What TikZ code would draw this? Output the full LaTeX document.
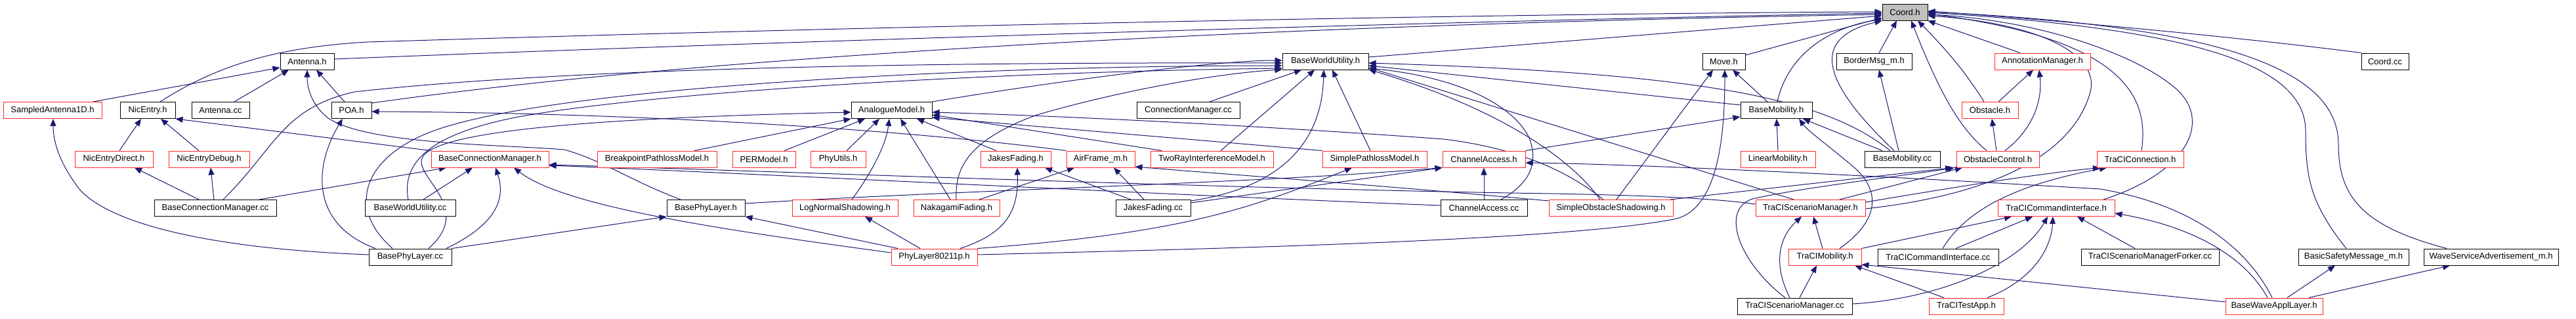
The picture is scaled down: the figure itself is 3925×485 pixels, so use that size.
\documentclass[tikz,border=0pt]{standalone}
\usepackage{fontspec}
\setmainfont{Liberation Sans}
\usetikzlibrary{arrows.meta}
\definecolor{edgeblue}{RGB}{25,25,112}
\definecolor{nodered}{RGB}{255,40,40}
\definecolor{coordgray}{RGB}{191,191,191}
\pgfdeclarelayer{bg}
\pgfdeclarelayer{edges}
\pgfsetlayers{bg,edges,main}
\newcommand{\mk}[6]{\node[#6, minimum width={#3pt-#2pt}] (#1) at ({(#2+#3)/2},#4) {#5};}
\tikzset{
  boxbase/.style={draw, rectangle, fill=white, inner sep=0pt, minimum height=25pt, line width=1pt, font=\fontsize{13}{15}\selectfont, text=black},
  kbox/.style={boxbase, draw=black},
  rbox/.style={boxbase, draw=nodered},
  gbox/.style={boxbase, draw=black, fill=coordgray},
  e/.style={draw=edgeblue, line width=1pt, -{Triangle[length=11pt,width=9pt]}}
}
\begin{document}
\begin{tikzpicture}[x=1pt,y=-1pt]
\begin{pgfonlayer}{bg}
\fill[white] (0,0) rectangle (3925,485);
\end{pgfonlayer}
\useasboundingbox (0,0) rectangle (3925,485);
% row 0
\mk{coord}{2868}{2937}{18.5}{Coord.h}{gbox}
% row 1
\mk{antenna}{427}{509}{93.5}{Antenna.h}{kbox}
\mk{bwuh}{1954}{2085}{93.5}{BaseWorldUtility.h}{kbox}
\mk{move}{2594}{2659}{93.5}{Move.h}{kbox}
\mk{border}{2798}{2913}{93.5}{BorderMsg\_m.h}{kbox}
\mk{annot}{3039}{3185}{93.5}{AnnotationManager.h}{rbox}
\mk{coordcc}{3598}{3670}{93.5}{Coord.cc}{kbox}
% row 2
\mk{sampled}{5}{155}{168}{SampledAntenna1D.h}{rbox}
\mk{nicentry}{183}{267}{168}{NicEntry.h}{kbox}
\mk{antennacc}{292}{380}{168}{Antenna.cc}{kbox}
\mk{poa}{505}{566}{168}{POA.h}{kbox}
\mk{analogue}{1297}{1420}{168}{AnalogueModel.h}{kbox}
\mk{connmgrcc}{1732}{1889}{168}{ConnectionManager.cc}{kbox}
\mk{basemobh}{2652}{2761}{168}{BaseMobility.h}{kbox}
\mk{obstacle}{2989}{3075}{168}{Obstacle.h}{rbox}
% row 3
\mk{nicdirect}{114}{233}{242.5}{NicEntryDirect.h}{rbox}
\mk{nicdebug}{257}{380}{242.5}{NicEntryDebug.h}{rbox}
\mk{bcmh}{657}{836}{242.5}{BaseConnectionManager.h}{rbox}
\mk{breakpoint}{910}{1092}{242.5}{BreakpointPathlossModel.h}{rbox}
\mk{permodel}{1116}{1212}{242.5}{PERModel.h}{rbox}
\mk{phyutils}{1235}{1319}{242.5}{PhyUtils.h}{rbox}
\mk{jakesh}{1494}{1601}{242.5}{JakesFading.h}{rbox}
\mk{airframe}{1625}{1729}{242.5}{AirFrame\_m.h}{rbox}
\mk{tworay}{1753}{1940}{242.5}{TwoRayInterferenceModel.h}{rbox}
\mk{simplepl}{2015}{2174}{242.5}{SimplePathlossModel.h}{rbox}
\mk{chanh}{2198}{2324}{242.5}{ChannelAccess.h}{rbox}
\mk{linmob}{2652}{2766}{242.5}{LinearMobility.h}{rbox}
\mk{basemobcc}{2841}{2956}{242.5}{BaseMobility.cc}{kbox}
\mk{obsctl}{2981}{3107}{242.5}{ObstacleControl.h}{rbox}
\mk{tcon}{3195}{3327}{242.5}{TraCIConnection.h}{rbox}
% row 4
\mk{bcmcc}{235}{421}{317}{BaseConnectionManager.cc}{kbox}
\mk{bwucc}{556}{694}{317}{BaseWorldUtility.cc}{kbox}
\mk{bplh}{1016}{1135}{317}{BasePhyLayer.h}{kbox}
\mk{lognorm}{1207}{1368}{317}{LogNormalShadowing.h}{rbox}
\mk{nakagami}{1392}{1523}{317}{NakagamiFading.h}{rbox}
\mk{jakescc}{1700}{1814}{317}{JakesFading.cc}{kbox}
\mk{chancc}{2195}{2327}{317}{ChannelAccess.cc}{kbox}
\mk{sos}{2360}{2549}{317}{SimpleObstacleShadowing.h}{rbox}
\mk{tsmh}{2675}{2842}{317}{TraCIScenarioManager.h}{rbox}
\mk{tcih}{3044}{3222}{317}{TraCICommandInterface.h}{rbox}
% row 5
\mk{bplcc}{562}{688}{391.5}{BasePhyLayer.cc}{kbox}
\mk{phy}{1358}{1489}{391.5}{PhyLayer80211p.h}{rbox}
\mk{tmob}{2725}{2836}{391.5}{TraCIMobility.h}{rbox}
\mk{tcicc}{2861}{3045}{391.5}{TraCICommandInterface.cc}{kbox}
\mk{forker}{3171}{3381}{391.5}{TraCIScenarioManagerForker.cc}{kbox}
\mk{bsm}{3502}{3670}{391.5}{BasicSafetyMessage\_m.h}{kbox}
\mk{wsa}{3693}{3898}{391.5}{WaveServiceAdvertisement\_m.h}{kbox}
% row 6
\mk{tsmcc}{2647}{2822}{466.5}{TraCIScenarioManager.cc}{kbox}
\mk{testapp}{2939}{3053}{466.5}{TraCITestApp.h}{rbox}
\mk{bwal}{3391}{3539}{466.5}{BaseWaveApplLayer.h}{rbox}

\begin{pgfonlayer}{edges}
% ---- edges into Coord.h
\draw[e] (nicentry.north -| 244,0) .. controls (330,100) and (420,72) .. (560,64) .. controls (1500,35) and (2400,20) .. (coord.west |- 0,18);
\draw[e] (antenna.east |- 0,90) .. controls (1200,62) and (2300,30) .. (coord.west |- 0,20);
\draw[e] (poa.east |- 0,157) .. controls (1000,95) and (1800,40) .. (coord.west |- 0,22);
\draw[e] (bwuh.east |- 0,87) -- (coord.west |- 0,24);
\draw[e] (move.east |- 0,84) -- (coord.west |- 0,27);
\draw[e] (basemobh.north -| 2708,0) .. controls (2725,80) and (2790,42) .. (coord.west |- 0,29);
\draw[e] (basemobcc.north -| 2886,0) .. controls (2760,110) and (2770,55) .. (coord.south west);
\draw[e] (border.north -| 2863,0) -- (coord.south -| 2890,0);
\draw[e] (obsctl.north -| 3027,0) .. controls (2985,195) and (2955,140) .. (coord.south -| 2912,0);
\draw[e] (obstacle.north -| 3023,0) .. controls (2995,110) and (2965,75) .. (coord.south -| 2922,0);
\draw[e] (annot.north -| 3078,0) -- (coord.south east);
\draw[e] (coordcc.north west) .. controls (3400,55) and (3100,28) .. (coord.east |- 0,17);
\draw[e] (bsm.north -| 3575,0) .. controls (3520,310) and (3513,270) .. (3513,200) .. controls (3513,100) and (3350,45) .. (coord.east |- 0,19);
\draw[e] (wsa.north -| 3728,0) .. controls (3600,345) and (3563,300) .. (3563,220) .. controls (3563,110) and (3400,40) .. (coord.east |- 0,18);
\draw[e] (tcon.north -| 3263,0) .. controls (3275,150) and (3240,60) .. (coord.east |- 0,21);
\draw[e] (tcih.north -| 3205,0) .. controls (3340,260) and (3370,180) .. (3313,133) .. controls (3250,80) and (3100,30) .. (coord.east |- 0,22);
\draw[e] (tsmh.east |- 0,318) .. controls (3050,295) and (3160,230) .. (3185,140) .. controls (3200,80) and (3100,35) .. (coord.east |- 0,24);

% ---- Antenna.h
\draw[e] (sampled.north -| 142,0) -- (antenna.west |- 0,103);
\draw[e] (antennacc.north -| 357,0) -- (antenna.south -| 440,0);
\draw[e] (poa.north -| 525,0) -- (antenna.south -| 482,0);
\draw[e] (bplh.north -| 1037,0) .. controls (960,275) and (920,245) .. (860,228) .. controls (760,220) and (560,220) .. (500,180) .. controls (475,160) and (468,135) .. (antenna.south -| 468,0);

% ---- NicEntry.h
\draw[e] (nicdirect.north -| 182,0) -- (nicentry.south -| 215,0);
\draw[e] (nicdebug.north -| 303,0) -- (nicentry.south -| 245,0);
\draw[e] (bcmh.north west) -- (nicentry.south east);

% ---- BaseConnectionManager.cc
\draw[e] (bcmcc.north -| 303,0) -- (nicdirect.south -| 205,0);
\draw[e] (bcmcc.north -| 326,0) -- (nicdebug.south -| 321,0);
\draw[e] (bcmcc.north -| 395,0) -- (bcmh.south -| 680,0);
\draw[e] (bcmcc.north -| 340,0) .. controls (420,225) and (430,165) .. (540,140) .. controls (900,100) and (1500,95) .. (bwuh.west |- 0,96);

% ---- BasePhyLayer.cc
\draw[e] (bplcc.west |- 0,388) .. controls (300,378) and (150,335) .. (115,280) .. controls (90,245) and (81,215) .. (sampled.south -| 81,0);
\draw[e] (bplcc.north -| 572,0) .. controls (470,340) and (480,250) .. (poa.south -| 522,0);
\draw[e] (bplcc.north -| 598,0) .. controls (520,310) and (560,225) .. (690,190) .. controls (900,130) and (1500,100) .. (bwuh.west |- 0,100);
\draw[e] (bplcc.north -| 653,0) .. controls (720,320) and (640,275) .. (642,245) .. controls (645,200) and (900,180) .. (analogue.west |- 0,171);
\draw[e] (bplcc.north -| 680,0) .. controls (760,340) and (770,300) .. (bcmh.south -| 755,0);
\draw[e] (bplcc.north east) -- (bplh.south west);

% ---- BaseWorldUtility.cc
\draw[e] (bwucc.north -| 622,0) .. controls (612,250) and (650,205) .. (790,178) .. controls (1000,140) and (1500,110) .. (bwuh.west |- 0,104);
\draw[e] (bwucc.north -| 645,0) -- (bcmh.south -| 720,0);

% ---- PhyLayer80211p.h
\draw[e] (phy.west |- 0,385) .. controls (1100,350) and (860,315) .. (bcmh.south -| 783,0);
\draw[e] (phy.north -| 1368,0) -- (bplh.south east);
\draw[e] (phy.north -| 1402,0) -- (lognorm.south -| 1318,0);
\draw[e] (phy.north -| 1463,0) .. controls (1535,355) and (1552,320) .. (jakesh.south -| 1550,0);
\draw[e] (phy.east |- 0,388) .. controls (1900,378) and (2400,365) .. (2555,333) .. controls (2620,315) and (2628,200) .. (move.south -| 2628,0);
\draw[e] (phy.north east) .. controls (1800,355) and (1900,320) .. (simplepl.south -| 2060,0);

% ---- AirFrame_m.h
\draw[e] (airframe.north west) .. controls (1400,200) and (1000,172) .. (poa.east |- 0,170);

% ---- AnalogueModel.h includers
\draw[e] (breakpoint.north -| 1058,0) -- (analogue.south west);
\draw[e] (permodel.north -| 1195,0) -- (analogue.south -| 1318,0);
\draw[e] (phyutils.north -| 1290,0) -- (analogue.south -| 1340,0);
\draw[e] (lognorm.north -| 1298,0) .. controls (1330,260) and (1350,220) .. (analogue.south -| 1355,0);
\draw[e] (nakagami.north -| 1448,0) -- (analogue.south -| 1372,0);
\draw[e] (jakesh.north -| 1518,0) -- (analogue.south -| 1397,0);
\draw[e] (tworay.north -| 1770,0) -- (analogue.east |- 0,175);
\draw[e] (simplepl.north west) -- (analogue.east |- 0,179);
\draw[e] (sos.north -| 2443,0) .. controls (2400,270) and (2330,228) .. (2200,212) .. controls (1900,190) and (1600,176) .. (analogue.east |- 0,171);
\draw[e] (analogue.north east) .. controls (1600,125) and (1850,92) .. (bwuh.west |- 0,92);

% ---- JakesFading.cc
\draw[e] (jakescc.north -| 1723,0) -- (jakesh.south -| 1592,0);
\draw[e] (jakescc.north -| 1743,0) -- (airframe.south -| 1697,0);
\draw[e] (jakescc.east |- 0,306) .. controls (1990,280) and (2015,180) .. (bwuh.south -| 2017,0);
\draw[e] (jakescc.east |- 0,309) -- (chanh.south west);

% ---- NakagamiFading.h
\draw[e] (nakagami.north -| 1492,0) -- (airframe.south -| 1637,0);
\draw[e] (nakagami.north -| 1457,0) .. controls (1455,260) and (1470,215) .. (1580,175) .. controls (1700,140) and (1850,112) .. (bwuh.west |- 0,106);

% ---- others into BaseWorldUtility.h
\draw[e] (connmgrcc.north -| 1843,0) -- (bwuh.south -| 1983,0);
\draw[e] (tworay.north -| 1860,0) -- (bwuh.south -| 2003,0);
\draw[e] (simplepl.north -| 2088,0) -- (bwuh.south -| 2030,0);
\draw[e] (basemobcc.north -| 2880,0) .. controls (2780,150) and (2600,112) .. (bwuh.east |- 0,96);
\draw[e] (basemobh.west |- 0,160) -- (bwuh.east |- 0,100);
\draw[e] (tsmh.north -| 2733,0) -- (bwuh.east |- 0,103);
\draw[e] (chancc.north -| 2287,0) .. controls (2330,280) and (2345,250) .. (2330,210) .. controls (2300,150) and (2200,115) .. (bwuh.east |- 0,104);
\draw[e] (sos.north -| 2438,0) .. controls (2400,250) and (2300,170) .. (bwuh.east |- 0,106);

% ---- ChannelAccess and SimpleObstacleShadowing
\draw[e] (chancc.north -| 2261,0) -- (chanh.south -| 2261,0);
\draw[e] (chancc.west |- 0,313) .. controls (1800,298) and (1100,262) .. (bcmh.east |- 0,252);
\draw[e] (tsmh.west |- 0,311) .. controls (2600,300) and (2450,296) .. (2300,294) .. controls (1800,285) and (1100,258) .. (bcmh.east |- 0,251);
\draw[e] (sos.west |- 0,306) .. controls (2100,282) and (1900,268) .. (airframe.east |- 0,254);
\draw[e] (sos.north -| 2463,0) -- (move.south -| 2610,0);
\draw[e] (sos.north -| 2545,0) -- (obsctl.south -| 2975,0);
\draw[e] (chanh.north east) -- (basemobh.west |- 0,178);
\draw[e] (bplh.east |- 0,310) .. controls (1500,288) and (1900,280) .. (chanh.south west);
\draw[e] (bwal.north -| 3462,0) .. controls (3420,370) and (3330,310) .. (3200,288) .. controls (2900,270) and (2500,250) .. (chanh.east |- 0,248);

% ---- mobility
\draw[e] (linmob.north -| 2709,0) -- (basemobh.south -| 2707,0);
\draw[e] (basemobcc.north -| 2868,0) -- (basemobh.south -| 2747,0);
\draw[e] (tmob.north -| 2803,0) .. controls (2865,335) and (2865,290) .. (2825,255) .. controls (2790,225) and (2755,200) .. (basemobh.south -| 2741,0);
\draw[e] (basemobcc.north -| 2893,0) -- (border.south -| 2863,0);
\draw[e] (basemobh.north -| 2693,0) -- (move.south -| 2640,0);

% ---- TraCI
\draw[e] (tmob.north -| 2777,0) -- (tsmh.south -| 2763,0);
\draw[e] (tmob.north east) -- (tcih.south -| 3065,0);
\draw[e] (tsmcc.north -| 2727,0) .. controls (2700,400) and (2712,360) .. (tsmh.south -| 2745,0);
\draw[e] (tsmcc.north -| 2742,0) -- (tmob.south -| 2768,0);
\draw[e] (tsmcc.east |- 0,463) .. controls (2960,455) and (3080,400) .. (tcih.south -| 3120,0);
\draw[e] (tsmcc.north -| 2720,0) .. controls (2650,400) and (2620,320) .. (2670,303) .. controls (2750,285) and (2900,268) .. (obsctl.south -| 2978,0);
\draw[e] (tsmh.east |- 0,308) .. controls (2950,290) and (3100,265) .. (tcon.south -| 3200,0);
\draw[e] (tsmh.north -| 2803,0) -- (obsctl.south -| 2990,0);
\draw[e] (tcicc.north -| 2980,0) -- (tcih.south -| 3097,0);
\draw[e] (tcicc.north -| 2960,0) .. controls (2990,330) and (3050,285) .. (tcon.south -| 3210,0);
\draw[e] (testapp.north -| 2962,0) -- (tmob.south -| 2826,0);
\draw[e] (testapp.north -| 3028,0) .. controls (3090,430) and (3125,385) .. (tcih.south -| 3128,0);
\draw[e] (forker.north -| 3253,0) -- (tcih.south -| 3165,0);
\draw[e] (bwal.west |- 0,460) -- (tmob.east |- 0,403);
\draw[e] (bwal.north -| 3455,0) .. controls (3420,390) and (3340,345) .. (tcih.east |- 0,325);
\draw[e] (bwal.north -| 3485,0) -- (bsm.south -| 3558,0);
\draw[e] (bwal.north -| 3518,0) -- (wsa.south -| 3733,0);

% ---- obstacles
\draw[e] (obsctl.north -| 3042,0) -- (obstacle.south -| 3035,0);
\draw[e] (obsctl.north -| 3055,0) .. controls (3100,195) and (3112,150) .. (annot.south -| 3107,0);
\draw[e] (obstacle.north -| 3045,0) -- (annot.south -| 3098,0);
\end{pgfonlayer}
\end{tikzpicture}
\end{document}
